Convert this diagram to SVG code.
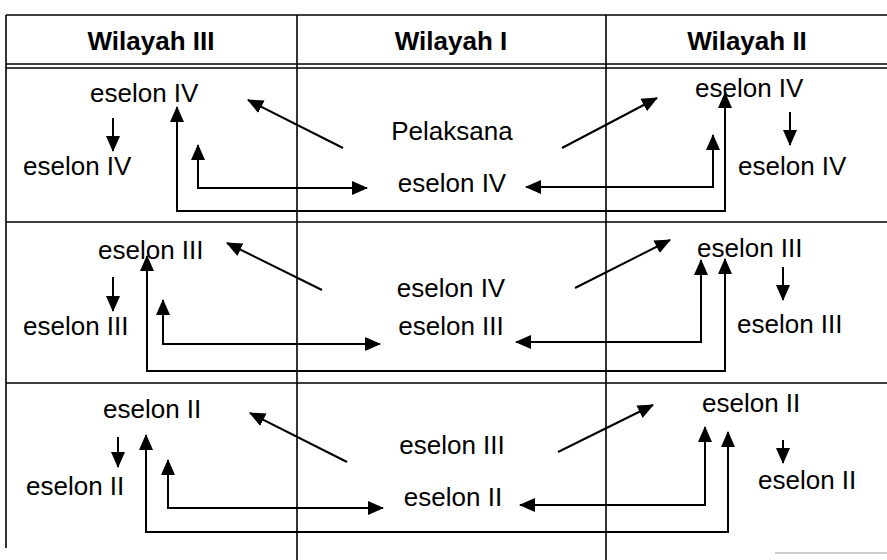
<svg xmlns="http://www.w3.org/2000/svg" width="887" height="560" viewBox="0 0 887 560">
<style>
.h{font-family:"Liberation Sans",Arial,sans-serif;font-weight:bold;font-size:26px;fill:#000;text-anchor:middle}
.t{font-family:"Liberation Sans",Arial,sans-serif;font-size:26px;fill:#000}
.c{text-anchor:middle}
.g{stroke:#000;stroke-width:1.6;fill:none}
.a{stroke:#000;stroke-width:2;fill:none;marker-end:url(#ah)}
.b{stroke:#000;stroke-width:2;fill:none;marker-start:url(#ah);marker-end:url(#ah)}
</style>
<defs>
<marker id="ah" markerUnits="userSpaceOnUse" markerWidth="16" markerHeight="16" viewBox="0 0 16 14" refX="15" refY="7" orient="auto-start-reverse">
<path d="M0,0 L16,7 L0,14 z" fill="#000"/>
</marker>
</defs>
<rect width="887" height="560" fill="#fff"/>
<g id="grid">
<line class="g" x1="6" y1="15" x2="887" y2="15"/>
<line class="g" x1="6" y1="64" x2="887" y2="64"/>
<line class="g" x1="6" y1="68" x2="887" y2="68"/>
<line class="g" x1="6" y1="222" x2="887" y2="222"/>
<line class="g" x1="6" y1="383" x2="887" y2="383"/>
<line class="g" x1="6" y1="15" x2="6" y2="548"/>
<line class="g" x1="297" y1="15" x2="297" y2="560"/>
<line class="g" x1="606" y1="15" x2="606" y2="560"/>
<line x1="775" y1="553" x2="887" y2="553" stroke="#bbb" stroke-width="1.5"/>
</g>
<g id="header">
<text class="h" x="151" y="50">Wilayah III</text>
<text class="h" x="451" y="50">Wilayah I</text>
<text class="h" x="747" y="50">Wilayah II</text>
</g>
<g id="r1-w3-top"><text class="t" x="90" y="102">eselon IV</text></g>
<g id="r1-w3-low"><text class="t" x="23" y="175">eselon IV</text></g>
<g id="r1-w1-top"><text class="t c" x="452" y="140">Pelaksana</text></g>
<g id="r1-w1-low"><text class="t c" x="452" y="192">eselon IV</text></g>
<g id="r1-w2-top"><text class="t" x="695" y="97">eselon IV</text></g>
<g id="r1-w2-low"><text class="t" x="738" y="175">eselon IV</text></g>
<g id="r2-w3-top"><text class="t" x="98" y="259">eselon III</text></g>
<g id="r2-w3-low"><text class="t" x="23" y="335">eselon III</text></g>
<g id="r2-w1-top"><text class="t c" x="451" y="297">eselon IV</text></g>
<g id="r2-w1-low"><text class="t c" x="451" y="335">eselon III</text></g>
<g id="r2-w2-top"><text class="t" x="697" y="257">eselon III</text></g>
<g id="r2-w2-low"><text class="t" x="737" y="333">eselon III</text></g>
<g id="r3-w3-top"><text class="t" x="103" y="418">eselon II</text></g>
<g id="r3-w3-low"><text class="t" x="26" y="495">eselon II</text></g>
<g id="r3-w1-top"><text class="t c" x="452" y="454">eselon III</text></g>
<g id="r3-w1-low"><text class="t c" x="453" y="506">eselon II</text></g>
<g id="r3-w2-top"><text class="t" x="702" y="412">eselon II</text></g>
<g id="r3-w2-low"><text class="t" x="758" y="489">eselon II</text></g>
<g id="connectors">
<path class="a" d="M343,148 L248,100"/>
<path class="a" d="M562,148 L657,98"/>
<path class="a" d="M113,118 L113,151"/>
<path class="a" d="M790,112 L790,145"/>
<path class="b" d="M177,107 L177,211 L725,211 L725,93"/>
<path class="b" d="M198,145 L198,188 L367,188"/>
<path class="b" d="M713,135 L713,187 L526,187"/>
<path class="a" d="M322,290 L227,243"/>
<path class="a" d="M575,288 L670,240"/>
<path class="a" d="M113,277 L113,311"/>
<path class="a" d="M783,267 L783,300"/>
<path class="b" d="M147,256 L147,371 L725,371 L725,259"/>
<path class="b" d="M163,300 L163,344 L380,344"/>
<path class="b" d="M701,260 L701,342 L516,342"/>
<path class="a" d="M347,462 L250,413"/>
<path class="a" d="M558,452 L653,405"/>
<path class="a" d="M118,437 L118,467"/>
<path class="a" d="M783,440 L783,463"/>
<path class="b" d="M146,435 L146,532 L728,532 L728,432"/>
<path class="b" d="M168,460 L168,508 L383,508"/>
<path class="b" d="M705,427 L705,505 L520,505"/>
</g>
</svg>
